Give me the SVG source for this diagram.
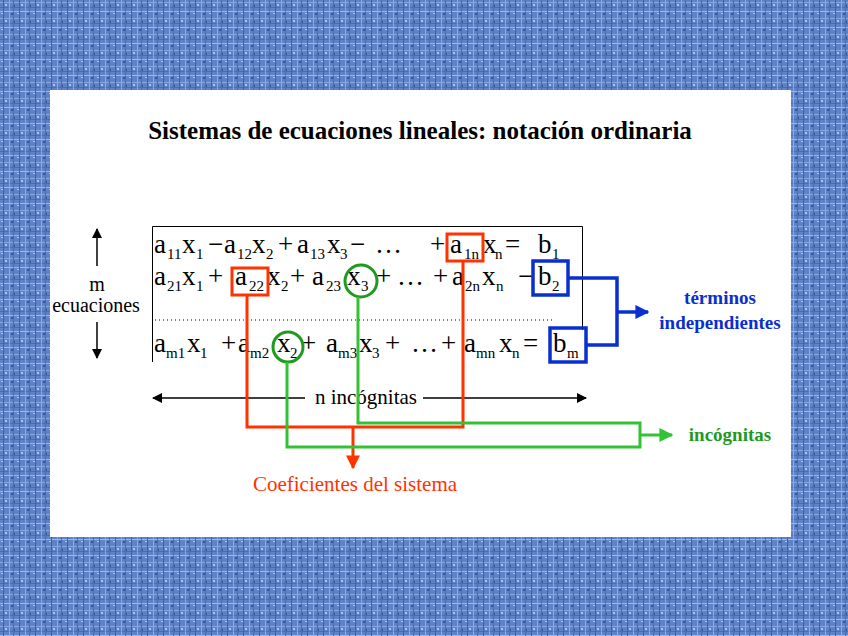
<svg xmlns="http://www.w3.org/2000/svg" width="848" height="636" viewBox="0 0 848 636">
<defs>
<pattern id="tex" width="16" height="16" patternUnits="userSpaceOnUse">
<rect width="16" height="16" fill="#5f82c6"/>
<rect x="0" y="2" width="16" height="1" fill="#87a8e6"/>
<rect x="0" y="7" width="16" height="1" fill="#4a6db3"/>
<rect x="0" y="11" width="16" height="1" fill="#9bb8ee"/>
<rect x="3" y="0" width="1" height="16" fill="#3f61a6"/>
<rect x="9" y="0" width="1" height="16" fill="#8aaae4"/>
<rect x="13" y="0" width="1" height="16" fill="#4b6cb0"/>
<rect x="5" y="4" width="2" height="2" fill="#a9c3f2"/>
<rect x="11" y="13" width="2" height="2" fill="#34579c"/>
<rect x="1" y="13" width="2" height="1" fill="#b0c8f4"/>
<rect x="14" y="5" width="1" height="2" fill="#2f4f92"/>
</pattern>
<marker id="ak" viewBox="0 0 10 10" refX="9" refY="5" markerWidth="10" markerHeight="10" markerUnits="userSpaceOnUse" orient="auto"><path d="M0,0 L10,5 L0,10 Z" fill="#000"/></marker>
<marker id="ab" viewBox="0 0 10 10" refX="9" refY="5" markerWidth="14" markerHeight="14" markerUnits="userSpaceOnUse" orient="auto"><path d="M0,0 L10,5 L0,10 Z" fill="#0a2fd0"/></marker>
<marker id="ar" viewBox="0 0 10 10" refX="9" refY="5" markerWidth="14" markerHeight="14" markerUnits="userSpaceOnUse" orient="auto"><path d="M0,0 L10,5 L0,10 Z" fill="#ff3300"/></marker>
<marker id="ag" viewBox="0 0 10 10" refX="9" refY="5" markerWidth="14" markerHeight="14" markerUnits="userSpaceOnUse" orient="auto"><path d="M0,0 L10,5 L0,10 Z" fill="#33c233"/></marker>
</defs>
<style>
.eq text{font-family:"Liberation Serif",serif;font-size:27px;fill:#000}
.eq text.s{font-size:15px}
.lbl{font-family:"Liberation Serif",serif;font-weight:bold;font-size:19px}
.red{stroke:#ff3300;stroke-width:3;fill:none}
.grn{stroke:#33c233;stroke-width:3;fill:none}
.blu{stroke:#0a2fd0;stroke-width:3.5;fill:none}
</style>
<rect width="848" height="636" fill="url(#tex)"/>
<rect x="50" y="90" width="741" height="447" fill="#fff"/>
<text x="420" y="139" text-anchor="middle" font-family="Liberation Serif, serif" font-weight="bold" font-size="25">Sistemas de ecuaciones lineales: notación ordinaria</text>

<g id="eqbox">
<path d="M152.5,362 V226.5 H582.5 V330" fill="none" stroke="#000" stroke-width="1"/>
<line x1="155" y1="320" x2="553" y2="320" stroke="#000" stroke-width="1" stroke-dasharray="1,3"/>
</g>

<g id="row1" class="eq">
<text x="154" y="253">a</text><text class="s" x="167" y="259">11</text>
<text x="182" y="253">x</text><text class="s" x="196" y="259">1</text>
<text x="208" y="253">−</text>
<text x="224" y="253">a</text><text class="s" x="237" y="259">12</text>
<text x="252" y="253">x</text><text class="s" x="266" y="259">2</text>
<text x="278" y="253">+</text>
<text x="297" y="253">a</text><text class="s" x="310" y="259">13</text>
<text x="327" y="253">x</text><text class="s" x="340" y="259">3</text>
<text x="350" y="253">−</text>
<text x="375" y="253">…</text>
<text x="430" y="253">+</text>
<text x="450" y="253">a</text><text class="s" x="464" y="259">1n</text>
<text x="483" y="253">x</text><text class="s" x="495" y="259">n</text>
<text x="505" y="253">=</text>
<text x="538" y="253">b</text><text class="s" x="552" y="259">1</text>
</g>
<g id="row2" class="eq">
<text x="154" y="285">a</text><text class="s" x="167" y="291">21</text>
<text x="182" y="285">x</text><text class="s" x="196" y="291">1</text>
<text x="208" y="285">+</text>
<text x="235" y="285">a</text><text class="s" x="249" y="291">22</text>
<text x="267" y="285">x</text><text class="s" x="281" y="291">2</text>
<text x="290" y="285">+</text>
<text x="312" y="285">a</text><text class="s" x="326" y="291">23</text>
<text x="347" y="285">x</text><text class="s" x="361" y="291">3</text>
<text x="376" y="285">+</text>
<text x="397" y="285">…</text>
<text x="433" y="285">+</text>
<text x="452" y="285">a</text><text class="s" x="465" y="291">2n</text>
<text x="482" y="285">x</text><text class="s" x="496" y="291">n</text>
<text x="518" y="285">−</text>
<text x="538" y="285">b</text><text class="s" x="552" y="291">2</text>
</g>
<g id="row3" class="eq">
<text x="154" y="352">a</text><text class="s" x="166" y="358">m1</text>
<text x="187" y="352">x</text><text class="s" x="200" y="358">1</text>
<text x="221" y="352">+</text>
<text x="238" y="352">a</text><text class="s" x="250" y="358">m2</text>
<text x="277" y="352">x</text><text class="s" x="290" y="358">2</text>
<text x="301" y="352">+</text>
<text x="326" y="352">a</text><text class="s" x="338" y="358">m3</text>
<text x="359" y="352">x</text><text class="s" x="372" y="358">3</text>
<text x="385" y="352">+</text>
<text x="411" y="352">…</text>
<text x="441" y="352">+</text>
<text x="464" y="352">a</text><text class="s" x="476" y="358">mn</text>
<text x="499" y="352">x</text><text class="s" x="512" y="358">n</text>
<text x="523" y="352">=</text>
<text x="553" y="352">b</text><text class="s" x="567" y="358">m</text>
</g>

<g id="m-ecuaciones">
<line x1="97" y1="266" x2="97" y2="229" stroke="#000" stroke-width="1.5" marker-end="url(#ak)"/>
<text x="97" y="291" text-anchor="middle" font-family="Liberation Serif, serif" font-size="20">m</text>
<text x="96" y="312" text-anchor="middle" font-family="Liberation Serif, serif" font-size="20">ecuaciones</text>
<line x1="97" y1="322" x2="97" y2="358" stroke="#000" stroke-width="1.5" marker-end="url(#ak)"/>
</g>

<g id="n-incognitas">
<line x1="305" y1="398" x2="153" y2="398" stroke="#000" stroke-width="1.5" marker-end="url(#ak)"/>
<line x1="423" y1="398" x2="586" y2="398" stroke="#000" stroke-width="1.5" marker-end="url(#ak)"/>
<text x="366" y="404" text-anchor="middle" font-family="Liberation Serif, serif" font-size="21">n incógnitas</text>
</g>

<g id="highlights">
<rect x="232" y="268" width="36" height="27" class="red"/>
<rect x="447" y="234" width="36" height="27" class="red"/>
<circle cx="361" cy="281" r="16" stroke="#1f9a1f" stroke-width="3" fill="none"/>
<circle cx="288" cy="347" r="15" stroke="#1f9a1f" stroke-width="3" fill="none"/>
<rect x="533" y="261" width="35" height="34" class="blu"/>
<rect x="550" y="328" width="36" height="34" class="blu"/>
</g>

<g id="connectors">
<path class="red" d="M247,295 V427 H463 V261"/>
<path class="red" d="M353,427 V468" marker-end="url(#ar)"/>
<path class="grn" d="M287,362 V447 H640 V423 H358 V297"/>
<path class="grn" d="M640,435 H672" marker-end="url(#ag)"/>
<path class="blu" d="M568,278 H617 V345 H586"/>
<path class="blu" d="M617,312 H648" marker-end="url(#ab)"/>
</g>

<g id="labels">
<text x="720" y="304" text-anchor="middle" class="lbl" fill="#0a2fd0">términos</text>
<text x="720" y="329" text-anchor="middle" class="lbl" fill="#0a2fd0">independientes</text>
<text x="730" y="441" text-anchor="middle" class="lbl" fill="#1f9a1f">incógnitas</text>
<text x="355" y="491" text-anchor="middle" font-family="Liberation Serif, serif" font-size="21" fill="#ff3300">Coeficientes del sistema</text>
</g>
</svg>
